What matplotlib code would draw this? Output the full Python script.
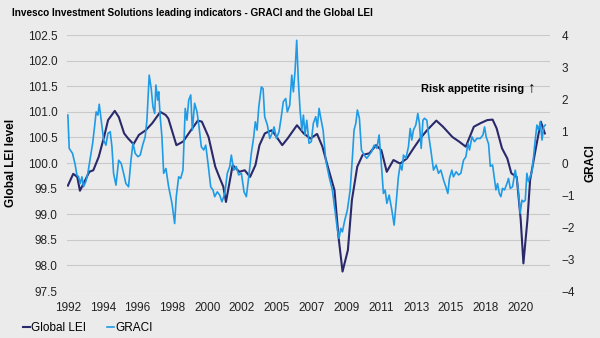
import matplotlib
matplotlib.use("Agg")
from matplotlib import pyplot as plt

plt.rcParams['font.family'] = ['Liberation Sans', 'DejaVu Sans']

# months since Jan 1992 and values
lei_month = [0, 4, 7, 9, 13, 16, 19, 23, 27, 30, 35, 38, 42, 45, 49, 53, 58, 63, 69, 73,
             75, 78, 81, 86, 91, 97, 100, 105, 110, 113, 116, 118, 123, 128, 132, 136,
             140, 143, 147, 152, 154, 160, 164, 171, 176, 181, 186, 190, 194, 199, 202,
             205, 209, 212, 216, 220, 225, 230, 234, 238, 243, 248, 253, 258, 263, 268,
             275, 280, 287, 292, 297, 303, 308, 313, 317, 320, 324, 328, 331, 335, 338,
             340, 343, 345, 349, 353, 356]
lei_value = [99.56, 99.79, 99.73, 99.46, 99.67, 99.83, 99.86, 100.12, 100.51, 100.84,
             101.02, 100.90, 100.58, 100.48, 100.37, 100.55, 100.64, 100.78, 101.00,
             100.94, 100.87, 100.61, 100.35, 100.42, 100.61, 100.83, 100.81, 100.51,
             99.93, 99.73, 99.54, 99.24, 99.96, 99.83, 99.86, 99.73, 99.96, 100.35,
             100.58, 100.64, 100.58, 100.35, 100.48, 100.74, 100.58, 100.48, 100.57,
             100.32, 99.93, 99.47, 98.56, 97.88, 98.30, 99.28, 99.93, 100.16, 100.19,
             100.35, 100.25, 99.83, 100.06, 99.99, 100.09, 100.29, 100.48, 100.64,
             100.83, 100.71, 100.51, 100.42, 100.32, 100.71, 100.78, 100.84, 100.85,
             100.68, 100.29, 100.09, 99.80, 99.73, 98.89, 98.04, 98.89, 99.67, 100.25,
             100.81, 100.58]

graci_month = [0, 1.0, 3.5, 5.5, 6.7, 8.0, 9.2, 10.5, 11.7, 13.4, 14.9, 16.7, 18.5, 19.9,
               21.1, 22.4, 23.4, 24.9, 26.7, 28.4, 29.9, 31.6, 32.9, 34.1, 35.9, 37.9,
               39.8, 41.6, 43.3, 45.3, 47.1, 48.6, 50.3, 52.3, 54.0, 55.8, 57.7, 59.0,
               60.7, 62.2, 63.5, 64.8, 65.7, 67.0, 67.8, 68.9, 70.2, 71.5, 73.2, 75.2,
               77.7, 79.7, 80.9, 82.7, 84.2, 85.9, 87.6, 88.9, 90.2, 91.7, 92.9, 94.6,
               96.4, 97.9, 99.6, 101.4, 102.9, 104.6, 106.6, 108.3, 109.6, 111.5, 113.3,
               115.0, 117.1, 119.0, 120.8, 122.0, 123.8, 125.7, 127.5, 129.5, 131.5,
               133.2, 135.0, 136.9, 138.7, 139.9, 141.2, 142.5, 144.4, 145.7, 146.9,
               148.9, 150.7, 152.4, 153.9, 155.7, 157.6, 159.3, 160.8, 162.6, 163.8,
               165.6, 167.1, 168.3, 169.6, 170.8, 172.0, 173.3, 174.6, 175.8, 177.0,
               178.3, 180.0, 181.7, 183.2, 185.0, 186.2, 187.5, 188.8, 190.5, 192.5,
               195.0, 197.4, 200.0, 201.2, 202.4, 203.7, 204.9, 206.7, 208.6, 210.7,
               212.4, 213.6, 214.9, 216.1, 217.6, 219.1, 221.1, 223.1, 224.8, 226.6,
               228.6, 230.6, 232.3, 234.3, 235.5, 236.8, 238.1, 239.8, 241.8, 243.5,
               245.0, 246.7, 248.0, 249.3, 250.5, 252.3, 254.2, 255.5, 256.7, 257.9,
               259.7, 261.2, 262.4, 263.7, 265.0, 266.2, 267.9, 269.1, 270.9, 272.9,
               274.9, 276.6, 278.4, 280.4, 282.1, 283.6, 284.8, 286.6, 287.8, 289.8,
               291.6, 293.3, 295.3, 297.1, 298.6, 299.8, 301.6, 303.5, 305.3, 307.8,
               309.8, 311.0, 312.2, 314.0, 315.3, 317.0, 318.2, 319.5, 320.7, 322.0,
               323.2, 324.4, 325.9, 327.7, 328.9, 330.2, 331.9, 333.9, 335.2, 336.4,
               337.6, 338.9, 340.1, 341.4, 342.6, 343.8, 345.1, 346.4, 347.6, 348.8,
               350.1, 351.3, 352.6, 353.9, 355.1, 356.3]
graci_value = [1.50, 0.46, 0.30, -0.06, -0.37, -0.43, -0.64, -0.43, -0.74, -0.58, -0.32,
               0.15, 0.62, 1.13, 1.60, 1.50, 1.84, 1.34, 0.72, 0.56, 0.93, 0.98, 0.51,
               -0.32, -0.69, 0.09, -0.01, -0.32, -0.64, -0.74, 0.09, 0.62, 0.30, 0.20,
               0.25, 0.56, 0.82, 1.34, 2.75, 2.33, 1.76, 1.55, 2.44, 1.97, 2.23, 1.45,
               0.82, -0.32, -0.17, -0.74, -1.26, -1.89, -1.05, -0.43, -0.48, -0.22,
               1.71, 1.34, 1.97, 2.13, 1.03, 1.87, 1.60, 1.13, 0.51, 0.41, 0.56, -0.01,
               -0.74, -0.84, -1.05, -0.90, -1.00, -1.21, -0.95, -0.32, -0.11, 0.25,
               -0.22, -0.11, -0.37, -0.32, -0.90, -1.05, -0.43, 0.30, 0.82, 1.29, 1.03,
               1.76, 2.38, 2.33, 1.45, 1.19, 0.77, 0.93, 1.13, 0.77, 0.98, 1.45, 1.92,
               2.02, 1.60, 1.81, 2.75, 2.23, 2.91, 3.84, 2.59, 1.66, 1.03, 1.50, 0.88,
               1.34, 0.62, 0.67, 1.24, 1.45, 1.13, 1.71, 1.40, 1.03, 0.09, -0.43,
               -0.84, -1.68, -2.09, -2.35, -2.04, -2.15, -1.78, -1.47, -0.84, 0.20,
               1.03, 1.24, 1.66, 1.40, 0.41, 0.25, 0.15, 0.25, 0.35, 0.56, 0.46, 0.88,
               -0.22, -0.95, -0.84, -1.26, -1.00, -1.47, -1.94, -1.26, -0.43, -0.06,
               -0.22, 0.25, 0.15, 0.51, 1.08, 0.72, 1.03, 1.19, 1.55, 1.24, 0.46, 1.34,
               1.40, 1.34, 0.93, 0.41, -0.22, -0.06, -0.32, -0.22, -0.53, -0.74, -0.95,
               -0.48, -0.22, -0.43, -0.27, -0.37, -0.32, 0.09, 0.20, 0.62, 0.41, 0.82,
               0.67, 0.77, 0.77, 0.88, 1.13, 0.82, 0.60, -0.10, -0.06, -0.43, -0.84,
               -0.64, -0.95, -1.05, -0.79, -0.84, -0.64, -0.48, -0.79, -0.74, -0.22,
               -0.53, -0.95, -1.57, -1.16, -1.21, -1.16, -0.32, -0.58, -0.43, -0.27,
               0.20, 0.72, 1.19, 1.03, 1.29, 0.72, 1.13, 1.19]

tick_month = [0, 26, 52, 78, 104, 130, 156, 182, 208, 234, 260, 286, 312, 338]
tick_label = ['1992', '1994', '1996', '1998', '2000', '2002', '2005', '2007', '2009',
              '2011', '2013', '2015', '2018', '2020']

lei_color = '#29296b'
graci_color = '#1f9be6'
bg = '#ebebeb'

fig = plt.figure(figsize=(6, 3.38), dpi=100, facecolor=bg)
ax = fig.add_axes([0.112, 0.139, 0.805, 0.757])
ax.set_facecolor(bg)
ax2 = ax.twinx()

l1, = ax.plot(lei_month, lei_value, color=lei_color, lw=1.5, label='Global LEI')
l2, = ax2.plot(graci_month, graci_value, color=graci_color, lw=1.2, label='GRACI')

ax.set_ylim(97.5, 102.5)
ax.set_yticks([97.5 + 0.5 * i for i in range(11)])
ax.set_yticklabels(['%.1f' % (97.5 + 0.5 * i) for i in range(11)])
ax2.set_ylim(-4, 4)
ax2.set_yticks(range(-4, 5))
ax.set_xlim(-0.5, 360)
ax.set_xticks(tick_month)
ax.set_xticklabels(tick_label)

ax.grid(axis='y', color='#c9c9c9', lw=0.8)
ax.set_axisbelow(True)
for a in (ax, ax2):
    for s in a.spines.values():
        s.set_visible(False)
ax.tick_params(axis='y', length=0, pad=7, labelsize=8.5, colors='#222222')
ax.tick_params(axis='x', length=0, pad=8, labelsize=8.5, colors='#222222')
ax2.tick_params(axis='y', length=0, pad=8, labelsize=8.5, colors='#222222')

ax.set_ylabel('Global LEI level', fontsize=8.5, fontweight='bold')
ax.yaxis.set_label_coords(-0.104, 0.5)
ax2.set_ylabel('GRACI', fontsize=8.5, fontweight='bold')
ax2.yaxis.set_label_coords(1.070, 0.5)

fig.text(0.02, 0.962, 'Invesco Investment Solutions leading indicators - GRACI and the Global LEI',
         fontsize=7.2, fontweight='bold', va='center', ha='left')
ax.text(0.945, 0.79, 'Risk appetite rising', transform=ax.transAxes,
        fontsize=8, fontweight='bold', ha='right', va='center')
ax.text(0.962, 0.795, '\u2191', transform=ax.transAxes,
        fontsize=11, fontweight='bold', ha='center', va='center')

fig.legend(handles=[l1, l2], loc='lower left', bbox_to_anchor=(0.02, -0.02), ncol=2,
           frameon=False, fontsize=8.5, handlelength=0.6, handletextpad=0.1,
           columnspacing=1.8)

fig.savefig('out.png', dpi=100, facecolor=bg)
